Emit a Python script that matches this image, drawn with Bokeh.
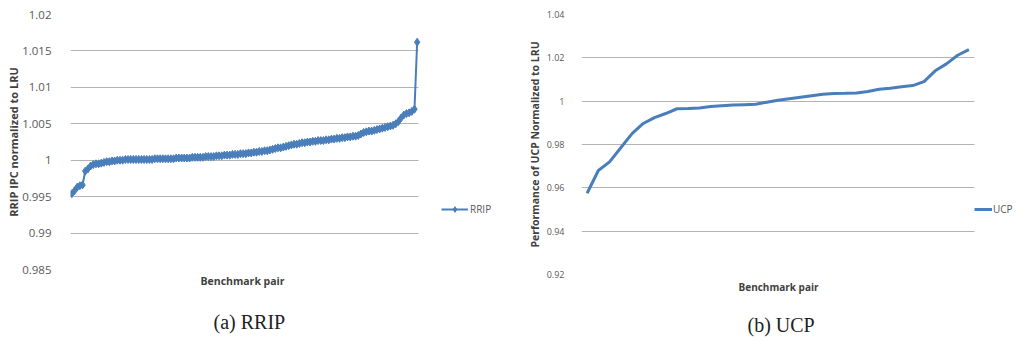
from bokeh.plotting import figure
from bokeh.layouts import row
from bokeh.models import (FixedTicker, CustomJSTickFormatter, Legend, LegendItem,
                          Range1d, Title)
from bokeh.embed import file_html
from bokeh.resources import INLINE

# ---------------- data ----------------
rrip_values = [
    0.9954, 0.9958, 0.9963, 0.9965, 0.9966, 0.9985, 0.9988, 0.9992, 0.9994, 0.9995,
    0.9995, 0.9996, 0.9997, 0.9998, 0.9998, 0.9999, 0.9999, 1.0000, 1.0000, 1.0000,
    1.0001, 1.0001, 1.0001, 1.0001, 1.0001, 1.0001, 1.0001, 1.0001, 1.0001, 1.0001,
    1.0001, 1.0002, 1.0002, 1.0002, 1.0002, 1.0002, 1.0002, 1.0002, 1.0002, 1.0003,
    1.0003, 1.0003, 1.0003, 1.0003, 1.0003, 1.0004, 1.0004, 1.0004, 1.0004, 1.0004,
    1.0005, 1.0005, 1.0005, 1.0005, 1.0006, 1.0006, 1.0006, 1.0007, 1.0007, 1.0007,
    1.0008, 1.0008, 1.0008, 1.0009, 1.0009, 1.0009, 1.0010, 1.0010, 1.0011, 1.0011,
    1.0012, 1.0012, 1.0013, 1.0013, 1.0014, 1.0015, 1.0016, 1.0017, 1.0017, 1.0018,
    1.0019, 1.0020, 1.0021, 1.0022, 1.0022, 1.0023, 1.0024, 1.0024, 1.0025, 1.0025,
    1.0026, 1.0026, 1.0027, 1.0027, 1.0027, 1.0028, 1.0028, 1.0029, 1.0029, 1.0030,
    1.0030, 1.0031, 1.0031, 1.0032, 1.0032, 1.0033, 1.0033, 1.0034, 1.0036, 1.0038,
    1.0039, 1.0040, 1.0040, 1.0041, 1.0042, 1.0043, 1.0044, 1.0045, 1.0046, 1.0047,
    1.0048, 1.0050, 1.0053, 1.0058, 1.0062, 1.0064, 1.0065, 1.0067, 1.0070, 1.0162,
]
rrip_pairs = list(range(1, len(rrip_values) + 1))

ucp_values = [
    0.9575, 0.9680, 0.9720, 0.9785, 0.9850, 0.9897, 0.9924, 0.9943, 0.9965, 0.9966,
    0.9968, 0.9975, 0.9979, 0.9982, 0.9984, 0.9986, 0.9995, 1.0004, 1.0011, 1.0018,
    1.0025, 1.0032, 1.0035, 1.0036, 1.0038, 1.0045, 1.0055, 1.0060, 1.0067, 1.0072,
    1.0090, 1.0140, 1.0172, 1.0212, 1.0238,
]
ucp_pairs = list(range(1, len(ucp_values) + 1))

rrip_ticks = [0.985, 0.99, 0.995, 1.0, 1.005, 1.01, 1.015, 1.02]
ucp_ticks = [0.92, 0.94, 0.96, 0.98, 1.0, 1.02, 1.04]

BLUE = "#4a7ebb"
GRID = "#b4b4b4"
TICK_TXT = "#595959"
LAB_TXT = "#404040"
FONT = "Open Sans"

fmt_code = "return (Math.round(tick*1000)/1000).toString();"


def style(p, ticks, n, tick_size, ylab_size, tick_standoff, lab_standoff):
    p.outline_line_color = None
    p.xgrid.visible = False
    p.ygrid.ticker = FixedTicker(ticks=ticks)
    p.ygrid.grid_line_color = GRID
    p.ygrid.grid_line_width = 1
    try:
        p.ygrid.cross_bounds = (0.5, n + 0.5)
    except Exception:
        pass
    p.yaxis.ticker = FixedTicker(ticks=ticks)
    p.yaxis.formatter = CustomJSTickFormatter(code=fmt_code)
    p.yaxis.axis_line_color = None
    p.yaxis.major_tick_line_color = None
    p.yaxis.minor_tick_line_color = None
    p.yaxis.major_label_text_font = FONT
    p.yaxis.major_label_text_font_size = tick_size
    p.yaxis.major_label_text_color = TICK_TXT
    p.yaxis.major_label_standoff = tick_standoff
    p.yaxis.axis_label_text_font = FONT
    p.yaxis.axis_label_text_font_size = ylab_size
    p.yaxis.axis_label_text_font_style = "bold"
    p.yaxis.axis_label_text_color = LAB_TXT
    p.yaxis.axis_label_standoff = lab_standoff
    p.xaxis.visible = False


def add_bottom_texts(p, xlabel, xlab_size, xlab_offset, xlab_standoff,
                     caption, cap_offset, cap_standoff):
    p.add_layout(Title(text=xlabel, align="left", offset=xlab_offset,
                       standoff=xlab_standoff, text_font=FONT,
                       text_font_size=xlab_size, text_font_style="bold",
                       text_color=LAB_TXT), "below")
    p.add_layout(Title(text=caption, align="left", offset=cap_offset,
                       standoff=cap_standoff, text_font="Liberation Serif",
                       text_font_size="20px", text_font_style="normal",
                       text_color="#222222"), "below")


# ---------------- left: RRIP ----------------
n1 = len(rrip_values)
plot_w1, frame_w1 = 348, 448          # data area width / frame width (frame also holds the legend)
p1 = figure(frame_width=frame_w1, frame_height=255,
            min_border_left=70, min_border_right=2, min_border_top=14, min_border_bottom=0,
            x_range=Range1d(0.5, 0.5 + n1 * frame_w1 / plot_w1),
            y_range=Range1d(0.985, 1.02),
            output_backend="svg", toolbar_location=None,
            y_axis_label="RRIP IPC normalized to LRU")
style(p1, rrip_ticks, n1, "11.5px", "11px", 13, -2)
l1 = p1.line(rrip_pairs, rrip_values, line_color=BLUE, line_width=2)
s1 = p1.scatter(rrip_pairs, rrip_values, marker="diamond", size=8,
                fill_color=BLUE, line_color=BLUE)
leg1 = Legend(items=[LegendItem(label="RRIP", renderers=[l1, s1])],
              location=(371, 53), padding=0, margin=0, spacing=0,
              glyph_width=27, glyph_height=14, label_height=14, label_standoff=2,
              border_line_color=None, background_fill_alpha=0,
              label_text_font=FONT, label_text_font_size="10px",
              label_text_color=TICK_TXT)
p1.add_layout(leg1)
add_bottom_texts(p1, "Benchmark pair", "10.5px", 130, 4, "(a) RRIP", 143, 38)

# ---------------- right: UCP ----------------
n2 = len(ucp_values)
plot_w2, frame_w2 = 393, 439
p2 = figure(frame_width=frame_w2, frame_height=260,
            min_border_left=61, min_border_right=0, min_border_top=14, min_border_bottom=0,
            x_range=Range1d(0.5, 0.5 + n2 * frame_w2 / plot_w2),
            y_range=Range1d(0.92, 1.04),
            output_backend="svg", toolbar_location=None,
            y_axis_label="Performance of UCP Normalized to LRU")
style(p2, ucp_ticks, n2, "9px", "10.5px", 11, 2)
l2 = p2.line(ucp_pairs, ucp_values, line_color=BLUE, line_width=3)
leg2 = Legend(items=[LegendItem(label="UCP", renderers=[l2])],
              location=(393, 58), padding=0, margin=0, spacing=0,
              glyph_width=18, glyph_height=14, label_height=14, label_standoff=1,
              border_line_color=None, background_fill_alpha=0,
              label_text_font=FONT, label_text_font_size="10px",
              label_text_color=TICK_TXT)
p2.add_layout(leg2)
add_bottom_texts(p2, "Benchmark pair", "10px", 157, 6, "(b) UCP", 166, 30)

layout = row(p1, p2)
open("out.html", "w").write(file_html(layout, INLINE))
